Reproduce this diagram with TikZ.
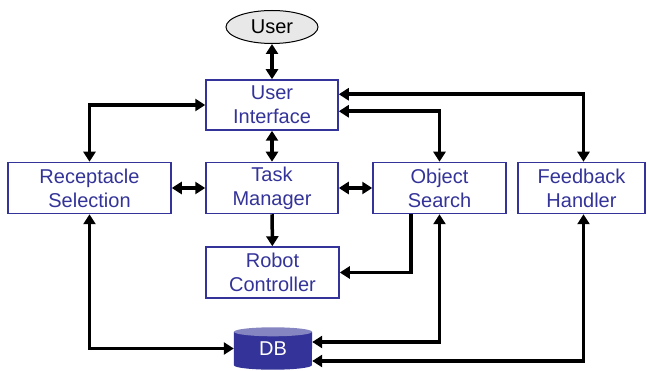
\documentclass[tikz,border=0pt]{standalone}
\usepackage{fontspec}
\setmainfont{Liberation Sans}
\usetikzlibrary{arrows.meta,shapes.geometric,backgrounds}
\definecolor{boxblue}{HTML}{333399}
\definecolor{dbtopc}{HTML}{8585C2}
\begin{document}
\begin{tikzpicture}[x=1pt,y=-1pt,
  lbl/.style={font=\fontsize{20}{24}\selectfont, align=center, inner sep=0pt},
  module/.style={lbl, draw=boxblue, line width=1.5pt, text=boxblue,
    minimum width=132pt, minimum height=51pt},
  tip/.tip={Triangle[length=10pt,width=12pt]},
  oneway/.style={line width=3.5pt, -tip},
  twoway/.style={line width=3.5pt, tip-tip},
]
\useasboundingbox (0,0) rectangle (647,371);

% components
\node[lbl, ellipse, draw=black, line width=1pt, fill=gray!18,
      minimum width=92pt, minimum height=33pt] (user) at (272,27) {User};
\node[module, minimum height=50pt] (ui) at (272,105) {User\\Interface};
\node[module, minimum width=163pt] (rs) at (89.5,188) {Receptacle\\Selection};
\node[module] (tm) at (272,188) {Task\\Manager};
\node[module, minimum width=133pt] (os) at (439.5,188) {Object\\Search};
\node[module, minimum width=127pt] (fb) at (581.5,188) {Feedback\\Handler};
\node[module, minimum width=133pt] (rc) at (272.5,272.5) {Robot\\Controller};
\node[lbl, text=white, minimum width=78pt, minimum height=42pt] (db) at (273,348.5) {DB};

% database cylinder behind its label
\begin{scope}[on background layer]
  \fill[boxblue] ([yshift=-4.5pt]db.north west) -- ([yshift=4.5pt]db.south west)
    arc[start angle=180, end angle=360, x radius=39pt, y radius=4.5pt]
    -- ([yshift=-4.5pt]db.north east) -- cycle;
  \fill[dbtopc] ([yshift=-4.5pt]db.north) ellipse[x radius=39pt, y radius=4.5pt];
\end{scope}

% connections
\draw[twoway] (user) -- (ui);
\draw[twoway] (ui) -- (tm);
\draw[twoway] (rs) -- (tm);
\draw[twoway] (tm) -- (os);
\draw[oneway] (tm) -- (rc);
\draw[twoway] (rs.north) |- (ui.west);
\draw[twoway] ([yshift=-15pt]ui.north east) -| ([xshift=2pt]fb.north);
\draw[twoway] ([yshift=-32pt]ui.north east) -| (os.north);
\draw[oneway] ([xshift=-28.5pt]os.south) |- (rc.east);
\draw[twoway] ([yshift=6.5pt]db.east) -| (os.south);
\draw[twoway] ([yshift=-12.5pt]db.east) -| ([xshift=2pt]fb.south);
\draw[twoway] (rs.south) |- (db.west);
\end{tikzpicture}
\end{document}
